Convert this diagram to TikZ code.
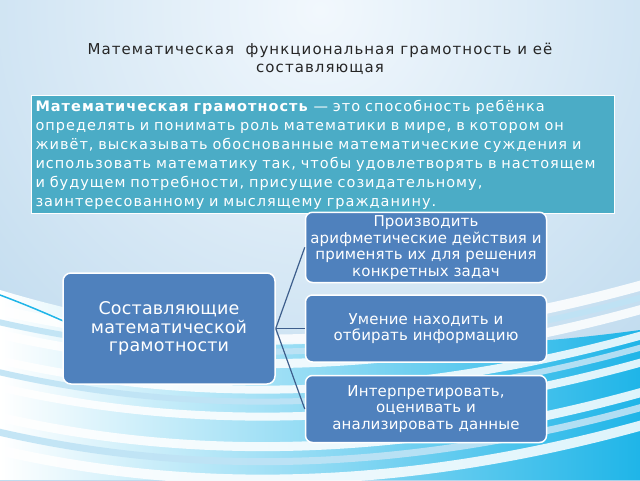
\documentclass[tikz,border=0pt]{standalone}
\usepackage{fontspec}
\setmainfont{DejaVu Sans}
\usetikzlibrary{positioning}

\definecolor{bgedge}{HTML}{A3CAE6}
\definecolor{bgmid}{HTML}{F2F8FD}
\definecolor{seacyan}{HTML}{1FB5E8}
\definecolor{wavelt}{HTML}{BFE3F5}
\definecolor{tealbox}{HTML}{4BACC6}
\definecolor{bluebox}{HTML}{4F81BD}
\definecolor{linkblue}{HTML}{3D5E8C}

\tikzset{
  defbox/.style={draw=white, line width=1pt, fill=tealbox, text=white,
    anchor=north west, minimum width=583pt, minimum height=118pt,
    text width=575pt, inner sep=4pt, align=left,
    font=\fontsize{14.5}{19}\selectfont\addfontfeatures{LetterSpace=7}},
  mainbox/.style={draw=white, line width=1.5pt, fill=bluebox, text=white,
    rounded corners=8pt, minimum width=212pt, minimum height=111pt,
    align=center, font=\fontsize{17.5}{18.5}\selectfont\addfontfeatures{LetterSpace=1}},
  itembox/.style={draw=white, line width=1.5pt, fill=bluebox, text=white,
    rounded corners=7pt, minimum width=241pt, minimum height=67pt,
    align=center, font=\fontsize{15}{16.5}\selectfont\addfontfeatures{LetterSpace=1}},
  link/.style={draw=linkblue, line width=1.2pt}
}

\begin{document}
\begin{tikzpicture}[x=1pt,y=1pt]
  \useasboundingbox (0,0) rectangle (640,480);
  % background
  \fill[bgedge] (0,0) rectangle (640,480);
  \begin{scope}
    \clip (0,0) rectangle (640,480);
    \shade[inner color=bgmid, outer color=bgedge] (320,470) circle (760);
    \shade[left color=white, right color=seacyan]
      (0,0) -- (0,190) .. controls (200,130) and (420,120) .. (640,150)
      -- (640,0) -- cycle;
    \foreach \y/\w in {172/10, 148/9, 122/8, 95/8, 65/9, 32/10}
      \draw[white, opacity=0.85, line width=\w pt]
        (-10,\y) .. controls (200,\y-50) and (420,\y-40) .. (650,\y+25);
    \foreach \y/\w in {160/6, 110/6, 50/7}
      \draw[wavelt, opacity=0.9, line width=\w pt]
        (-10,\y) .. controls (200,\y-50) and (420,\y-40) .. (650,\y+25);
    \draw[seacyan, line width=1.5pt]
      (0,185) .. controls (40,170) and (60,160) .. (80,152);
  \end{scope}

  \node[align=center, text=black!85,
    font=\fontsize{15}{18}\selectfont\addfontfeatures{LetterSpace=7}]
    (title) at (320,421)
    {Математическая\ \ функциональная грамотность и её\\составляющая};

  \node[defbox] (defn) at (31,385)
    {\textbf{Математическая грамотность} — это способность ребёнка\\
     определять и понимать роль математики в мире, в котором он\\
     живёт, высказывать обоснованные математические суждения и\\
     использовать математику так, чтобы удовлетворять в настоящем\\
     и будущем потребности, присущие созидательному,\\
     заинтересованному и мыслящему гражданину.};

  \node[mainbox] (main) at (169,151.5)
    {Составляющие\\математической\\грамотности};
  \node[itembox, right=29pt of main] (find)
    {Умение находить и\\отбирать информацию};
  \node[itembox, above=11pt of find] (calc)
    {Производить\\арифметические действия и\\применять их для решения\\конкретных задач};
  \node[itembox, below=12pt of find] (data)
    {Интерпретировать,\\оценивать и\\анализировать данные};

  \draw[link] (main.east) -- (calc.west);
  \draw[link] (main.east) -- (find.west);
  \draw[link] (main.east) -- (data.west);
\end{tikzpicture}
\end{document}
